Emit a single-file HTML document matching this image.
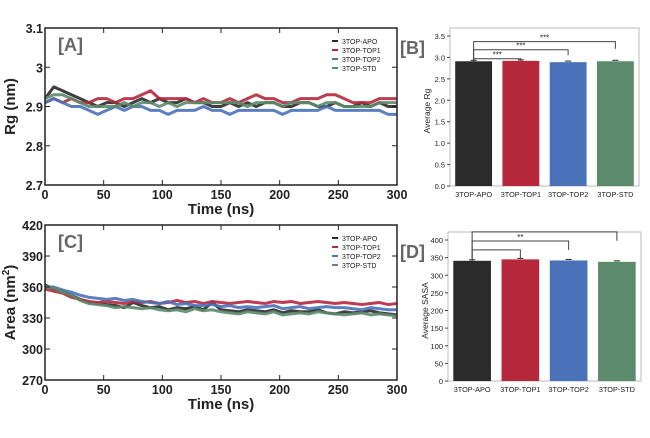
<!DOCTYPE html>
<html><head><meta charset="utf-8"><style>
body{margin:0;background:#fff;width:650px;height:433px;overflow:hidden}
svg{font-family:"Liberation Sans",sans-serif}
</style></head><body>
<svg id="fig" width="650" height="433"></svg>
<script>
const times=[];for(let i=0;i<=40;i++)times.push(i*7.5);
const seriesNames=["3TOP-APO","3TOP-TOP1","3TOP-TOP2","3TOP-STD"];
const colors=["#2a2a2a","#b5283c","#4a72b8","#5c8a6c"];
const rgApo=[2.92,2.95,2.94,2.93,2.92,2.91,2.90,2.91,2.91,2.90,2.91,2.92,2.91,2.92,2.91,2.91,2.92,2.91,2.91,2.90,2.90,2.91,2.90,2.91,2.90,2.91,2.91,2.90,2.90,2.91,2.91,2.90,2.90,2.91,2.90,2.90,2.91,2.90,2.91,2.90,2.90];
const rgTop1=[2.91,2.92,2.91,2.92,2.91,2.91,2.92,2.92,2.91,2.92,2.92,2.93,2.94,2.92,2.92,2.92,2.92,2.91,2.92,2.91,2.91,2.92,2.91,2.92,2.93,2.92,2.92,2.91,2.91,2.92,2.92,2.92,2.93,2.93,2.92,2.91,2.91,2.91,2.92,2.92,2.92];
const rgTop2=[2.91,2.92,2.91,2.90,2.90,2.89,2.88,2.89,2.90,2.89,2.90,2.90,2.89,2.89,2.88,2.89,2.89,2.89,2.90,2.89,2.89,2.88,2.89,2.89,2.89,2.89,2.89,2.88,2.89,2.89,2.89,2.89,2.90,2.89,2.89,2.89,2.89,2.89,2.89,2.88,2.88];
const rgStd=[2.92,2.93,2.93,2.92,2.91,2.90,2.90,2.90,2.90,2.91,2.90,2.91,2.91,2.90,2.91,2.90,2.91,2.91,2.91,2.91,2.91,2.91,2.91,2.90,2.91,2.91,2.91,2.90,2.91,2.91,2.91,2.90,2.91,2.91,2.90,2.90,2.90,2.90,2.91,2.91,2.91];
const saApo=[362,358,356,352,348,345,344,343,342,340,345,342,340,341,338,340,339,341,338,345,338,337,336,338,337,336,338,335,337,336,336,338,335,334,336,335,336,337,335,334,333];
const saTop1=[358,356,354,350,348,346,345,346,345,344,346,345,346,344,345,347,345,346,344,346,345,344,345,346,345,344,346,345,346,344,345,346,345,344,345,344,343,344,345,343,344];
const saTop2=[360,360,357,355,352,350,349,348,349,347,348,346,345,344,346,343,344,342,342,343,341,342,340,341,340,341,342,339,340,341,339,340,341,340,340,339,338,340,339,338,338];
const saStd=[360,359,355,352,347,344,343,342,340,341,340,339,340,338,337,338,336,339,337,338,336,335,334,336,335,334,336,333,334,335,334,336,335,334,333,334,335,333,334,333,332];
const xTicks=[0,50,100,150,200,250,300];
const rgTicks=[2.7,2.8,2.9,3.0,3.1];
const rgTickLabels=["2.7","2.8","2.9","3","3.1"];
const saTicks=[270,300,330,360,390,420];
const barCats=["3TOP-APO","3TOP-TOP1","3TOP-TOP2","3TOP-STD"];
const rgMeans=[2.91,2.92,2.89,2.91];
const saMeans=[341,345,342,338];
const bTicks=[0,0.5,1.0,1.5,2.0,2.5,3.0,3.5];
const dTicks=[0,50,100,150,200,250,300,350,400];

const NS="http://www.w3.org/2000/svg";
const svg=document.getElementById('fig');
function el(tag,attrs,parent,text){const e=document.createElementNS(NS,tag);for(const k in attrs)e.setAttribute(k,attrs[k]);if(text!==undefined)e.textContent=text;(parent||svg).appendChild(e);return e;}

function linePanel(name,y0,y1,ymin,ymax,ticks,tickLabels,data,label,ytitle,sup){
  const g=el('g',{});
  
  
  const x0=45,x1=397;
  const sx=v=>x0+(v-0)/300*(x1-x0);
  const sy=v=>y1-(v-ymin)/(ymax-ymin)*(y1-y0);
  data.forEach((arr,si)=>{
    const p=el('polyline',{points:arr.map((v,i)=>sx(times[i])+','+sy(v)).join(' '),fill:'none',stroke:colors[si],'stroke-width':3,'stroke-linejoin':'round','stroke-opacity':0.9},g);
    
    
  });
  el('rect',{x:x0,y:y0,width:x1-x0,height:y1-y0,fill:'none',stroke:'#222','stroke-width':1.5},g);
  xTicks.forEach(t=>{const x=sx(t);el('line',{x1:x,x2:x,y1:y1,y2:y1-5,stroke:'#222'},g);el('line',{x1:x,x2:x,y1:y0,y2:y0+5,stroke:'#222'},g);
    const tl=el('text',{x:x,y:y1+14,'text-anchor':'middle','font-size':12.5,'font-weight':'bold',fill:'#222'},g,String(t));
    });
  ticks.forEach((t,i)=>{const y=sy(t);el('line',{x1:x0,x2:x0+5,y1:y,y2:y,stroke:'#222'},g);el('line',{x1:x1,x2:x1-5,y1:y,y2:y,stroke:'#222'},g);
    const tl=el('text',{x:x0-2,y:y+5,'text-anchor':'end','font-size':12.5,'font-weight':'bold',fill:'#222'},g,tickLabels[i]);
    });
  const xt=el('text',{x:(x0+x1)/2,y:y1+29,'text-anchor':'middle','font-size':15,'font-weight':'bold',fill:'#222'},g,'Time (ns)');
  
  const yt=el('text',{x:0,y:0,transform:`translate(15,${(y0+y1)/2}) rotate(-90)`,'text-anchor':'middle','font-size':15,'font-weight':'bold',fill:'#222'},g,ytitle);
  if(sup){el('tspan',{dy:-6,'font-size':10},yt,'2');el('tspan',{dy:6},yt,')');}
  
  const pl=el('text',{x:58,y:y0+23,'font-size':18,'font-weight':'bold',fill:'#666'},g,label);
  
  seriesNames.forEach((n,i)=>{const yy=y0+16+i*9;
    el('line',{x1:332,x2:338,y1:yy-3,y2:yy-3,stroke:colors[i],'stroke-width':2},g);
    const lt=el('text',{x:342,y:yy,'font-size':7,fill:'#222'},g,n);
    });
}
linePanel('rg-time-panel',28,185,2.7,3.1,rgTicks,rgTickLabels,[rgApo,rgTop1,rgTop2,rgStd],'[A]','Rg (nm)',false);
linePanel('sasa-time-panel',225,380,270,420,saTicks,saTicks.map(String),[saApo,saTop1,saTop2,saStd],'[C]','Area (nm',true);

function barPanel(name,x0,x1,y0,y1,ymax,yzero,ticks,means,label,ytitle,brackets,fmt){
  const g=el('g',{});
  
  
  const sy=v=>yzero-v/ymax*(yzero-y0);
  el('rect',{x:x0,y:y0-8,width:x1-x0,height:y1-y0+8,fill:'none',stroke:'#bbb','stroke-width':1},g);
  const band=(x1-x0)/4;
  means.forEach((m,i)=>{const cx=x0+band*(i+0.5);const w=band*0.78;
    const r=el('rect',{x:cx-w/2,y:sy(m),width:w,height:yzero-sy(m),fill:colors[i]},g);
    
    el('line',{x1:cx-3,x2:cx+3,y1:sy(m)-1,y2:sy(m)-1,stroke:'#222'},g);
    const tl=el('text',{x:cx,y:yzero+11,'text-anchor':'middle','font-size':7.3,fill:'#222'},g,barCats[i]);
    });
  ticks.forEach(t=>{const y=sy(t);el('line',{x1:x0-3,x2:x0,y1:y,y2:y,stroke:'#444'},g);
    const tl=el('text',{x:x0-5,y:y+3,'text-anchor':'end','font-size':7.5,fill:'#222'},g,fmt(t));
    });
  const yt=el('text',{x:0,y:0,transform:`translate(${x0-20},${(y0+yzero)/2}) rotate(-90)`,'text-anchor':'middle','font-size':8.5,fill:'#222'},g,ytitle);
  
  const pl=el('text',{x:400,y:y0+18,'font-size':18,'font-weight':'bold',fill:'#666'},g,label);
  
  const cxOf=i=>x0+band*(i+0.5);
  brackets.forEach(b=>{const yb=sy(b[1]);const xa=cxOf(0),xb=cxOf(b[0]);
    el('polyline',{points:`${xa},${sy(means[0])} ${xa},${yb} ${xb},${yb} ${xb},${sy(b[3])}`,fill:'none',stroke:'#444','stroke-width':1},g);
    if(b[2]){const s=el('text',{x:(xa+xb)/2,y:yb-1,'text-anchor':'middle','font-size':8,fill:'#222'},g,b[2]);
      }});
}
barPanel('rg-bar-panel',450,639,36,186,3.5,186,bTicks,rgMeans,'[B]','Average Rg',
  [[3,3.37,'***',3.2],[2,3.18,'***',3.05],[1,2.97,'***',2.92]],t=>t.toFixed(1));
barPanel('sasa-bar-panel',448,641,240,381,400,381,dTicks,saMeans,'[D]','Average SASA',
  [[3,423,'',398],[2,397,'**',372],[1,372,'',348]],t=>String(t));
</script>
</body></html>
